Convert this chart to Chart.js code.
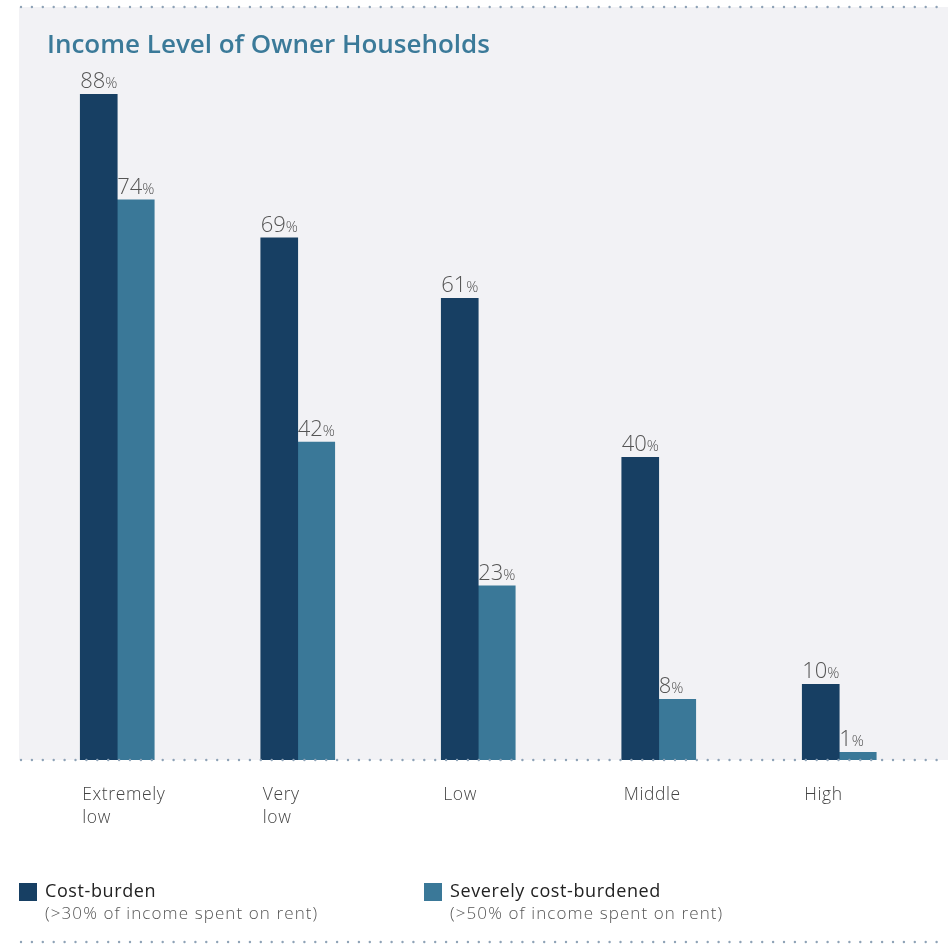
<!DOCTYPE html>
<html>
<head>
<meta charset="utf-8">
<script src="https://cdn.jsdelivr.net/npm/chart.js@4/dist/chart.umd.min.js"></script>
<style>
  html, body { margin: 0; padding: 0; background: #fff; }
  #wrap { width: 948px; height: 944px; position: relative; }
</style>
</head>
<body>
<div id="wrap"><canvas id="chart" width="948" height="944"></canvas></div>
<script>
// dữ liệu
const titleText = 'Income Level of Owner Households';
const categories = [['Extremely', 'low'], ['Very', 'low'], ['Low'], ['Middle'], ['High']];
const costBurden = [88, 69, 61, 40, 10];
const severelyBurdened = [74, 42, 23, 8, 1];
const seriesNames = ['Cost-burden', 'Severely cost-burdened'];
const seriesNotes = ['(>30% of income spent on rent)', '(>50% of income spent on rent)'];

const DARK = '#173f63';
const LIGHT = '#3a7898';
const FONT = '"Open Sans", Lato, sans-serif';

function dotLine(ctx, x1, x2, y) {
    ctx.save();
    ctx.fillStyle = '#8ea2b6';
    for (let x = x1; x <= x2; x += 10.9) {
        ctx.beginPath();
        ctx.arc(x, y, 1.2, 0, Math.PI * 2);
        ctx.fill();
    }
    ctx.restore();
}

// nền + tiêu đề + đường chấm
const backgroundPlugin = {
    id: 'panel',
    beforeDraw(chart) {
        const ctx = chart.ctx;
        const bottom = chart.scales.y.getPixelForValue(0);
        ctx.save();
        ctx.fillStyle = '#f2f2f5';
        ctx.fillRect(19, 7, 948 - 19, bottom - 7);
        ctx.fillStyle = '#3b7a99';
        ctx.font = '600 26px ' + FONT;
        ctx.textBaseline = 'alphabetic';
        ctx.fillText(titleText, 47, 53);
        ctx.restore();
        dotLine(ctx, 21, 940, 7);
        dotLine(ctx, 21, 940, 942);
    },
    afterDatasetsDraw(chart) {
        const ctx = chart.ctx;
        const bottom = chart.scales.y.getPixelForValue(0);
        dotLine(ctx, 21, 940, bottom);

        // nhãn giá trị
        chart.data.datasets.forEach((ds, i) => {
            chart.getDatasetMeta(i).data.forEach((bar, j) => {
                const left = bar.x - bar.width / 2;
                const num = String(ds.data[j]);
                ctx.save();
                ctx.fillStyle = '#555';
                ctx.textBaseline = 'alphabetic';
                ctx.font = '300 22px ' + FONT;
                ctx.fillText(num, left, bar.y - 6);
                const w = ctx.measureText(num).width;
                ctx.font = '300 15px ' + FONT;
                ctx.fillText('%', left + w, bar.y - 6);
                ctx.restore();
            });
        });

        // nhãn danh mục
        const meta0 = chart.getDatasetMeta(0);
        categories.forEach((lines, j) => {
            const bar = meta0.data[j];
            const left = bar.x - bar.width / 2 + 2;
            ctx.save();
            ctx.fillStyle = '#444';
            ctx.font = '300 17.5px ' + FONT;
            ctx.letterSpacing = '0.6px';
            ctx.textBaseline = 'alphabetic';
            lines.forEach((t, k) => ctx.fillText(t, left, 800 + k * 23));
            ctx.restore();
        });

        // chú thích
        const legendX = [19, 424];
        [DARK, LIGHT].forEach((c, i) => {
            const x = legendX[i];
            ctx.save();
            ctx.fillStyle = c;
            ctx.fillRect(x, 883, 18, 18);
            ctx.textBaseline = 'alphabetic';
            ctx.font = '400 18px ' + FONT;
            ctx.letterSpacing = '0.6px';
            ctx.fillStyle = '#222';
            ctx.fillText(seriesNames[i], x + 26, 897);
            ctx.font = '300 17px ' + FONT;
            ctx.letterSpacing = '1.1px';
            ctx.fillStyle = '#555';
            ctx.fillText(seriesNotes[i], x + 26, 919);
            ctx.restore();
        });
    }
};

const ctx = document.getElementById('chart').getContext('2d');
new Chart(ctx, {
    type: 'bar',
    data: {
        labels: categories.map(c => c.join(' ')),
        datasets: [
            { label: seriesNames[0], data: costBurden, backgroundColor: DARK, barThickness: 37 },
            { label: seriesNames[1], data: severelyBurdened, backgroundColor: LIGHT, barThickness: 37 }
        ]
    },
    options: {
        responsive: false,
        animation: false,
        layout: { padding: { top: 94, bottom: 184, left: 27, right: 18.5 } },
        plugins: { legend: { display: false }, tooltip: { enabled: false } },
        scales: {
            x: { display: false, grid: { display: false } },
            y: { display: false, min: 0, max: 88 }
        }
    },
    plugins: [backgroundPlugin]
});
</script>
</body>
</html>
